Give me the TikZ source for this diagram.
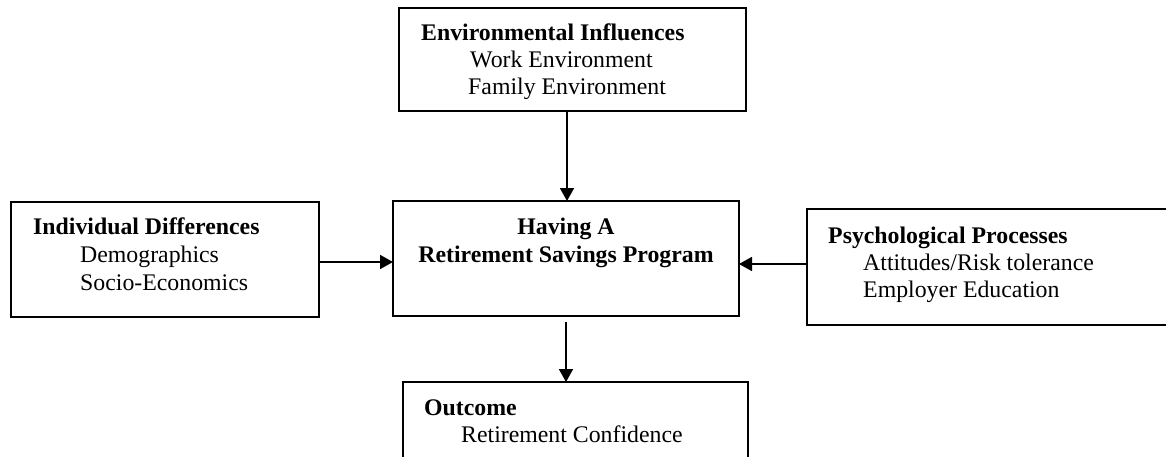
\documentclass[tikz,border=0pt]{standalone}
\usepackage{fontspec}
\setmainfont{Liberation Serif}
\usetikzlibrary{arrows.meta}
\begin{document}
\begin{tikzpicture}[x=1pt,y=-1pt,
  box/.style={draw, line width=1.8pt, inner sep=0pt, outer sep=0pt, rectangle},
  hd/.style={anchor=base west, inner sep=0pt, font=\fontsize{23.8}{28}\selectfont\bfseries},
  it/.style={anchor=base west, inner sep=0pt, font=\fontsize{23.8}{28}\selectfont},
  ctr/.style={anchor=base, inner sep=0pt, font=\fontsize{23.8}{28}\selectfont\bfseries},
  arr/.style={line width=1.8pt, -{Triangle[width=14pt,length=13pt]}}]
\useasboundingbox (0,0) rectangle (1166,457);
% boxes
\node[box, minimum width=347pt, minimum height=103pt] (env) at (572.5,59.5) {};
\node[box, minimum width=346pt, minimum height=115pt] (center) at (566,258.5) {};
\node[box, minimum width=308pt, minimum height=115pt] (left) at (165,259.5) {};
\node[box, minimum width=370pt, minimum height=116pt] (right) at (992,267) {};
\node[box, minimum width=345pt, minimum height=100pt] (out) at (575.5,432) {};
% texts
\node[hd] (envh) at (421,41) {Environmental Influences};
\node[it] (env1) at (470,68) {Work Environment};
\node[it] (env2) at (468,95) {Family Environment};
\node[ctr] (c1) at (566,234) {Having A};
\node[ctr] (c2) at (566,262) {Retirement Savings Program};
\node[hd] (lh) at (33,234) {Individual Differences};
\node[it] (l1) at (80,262) {Demographics};
\node[it] (l2) at (80,290) {Socio-Economics};
\node[hd] (rh) at (828,243) {Psychological Processes};
\node[it] (r1) at (863,270) {Attitudes/Risk tolerance};
\node[it] (r2) at (863,297) {Employer Education};
\node[hd] (oh) at (424,415) {Outcome};
\node[it] (o1) at (461,442) {Retirement Confidence};
% connectors
\coordinate (ly) at (0,262);
\coordinate (ry) at (0,264);
\coordinate (ax) at (567,0);
\draw[arr] (env.south -| ax) -- (center.north -| ax);
\draw[arr] (left.east |- ly) -- (center.west |- ly);
\draw[arr] (right.west |- ry) -- (center.east |- ry);
\draw[arr, shorten <=6pt] (center.south) -- (out.north -| center.south);
\end{tikzpicture}
\end{document}
